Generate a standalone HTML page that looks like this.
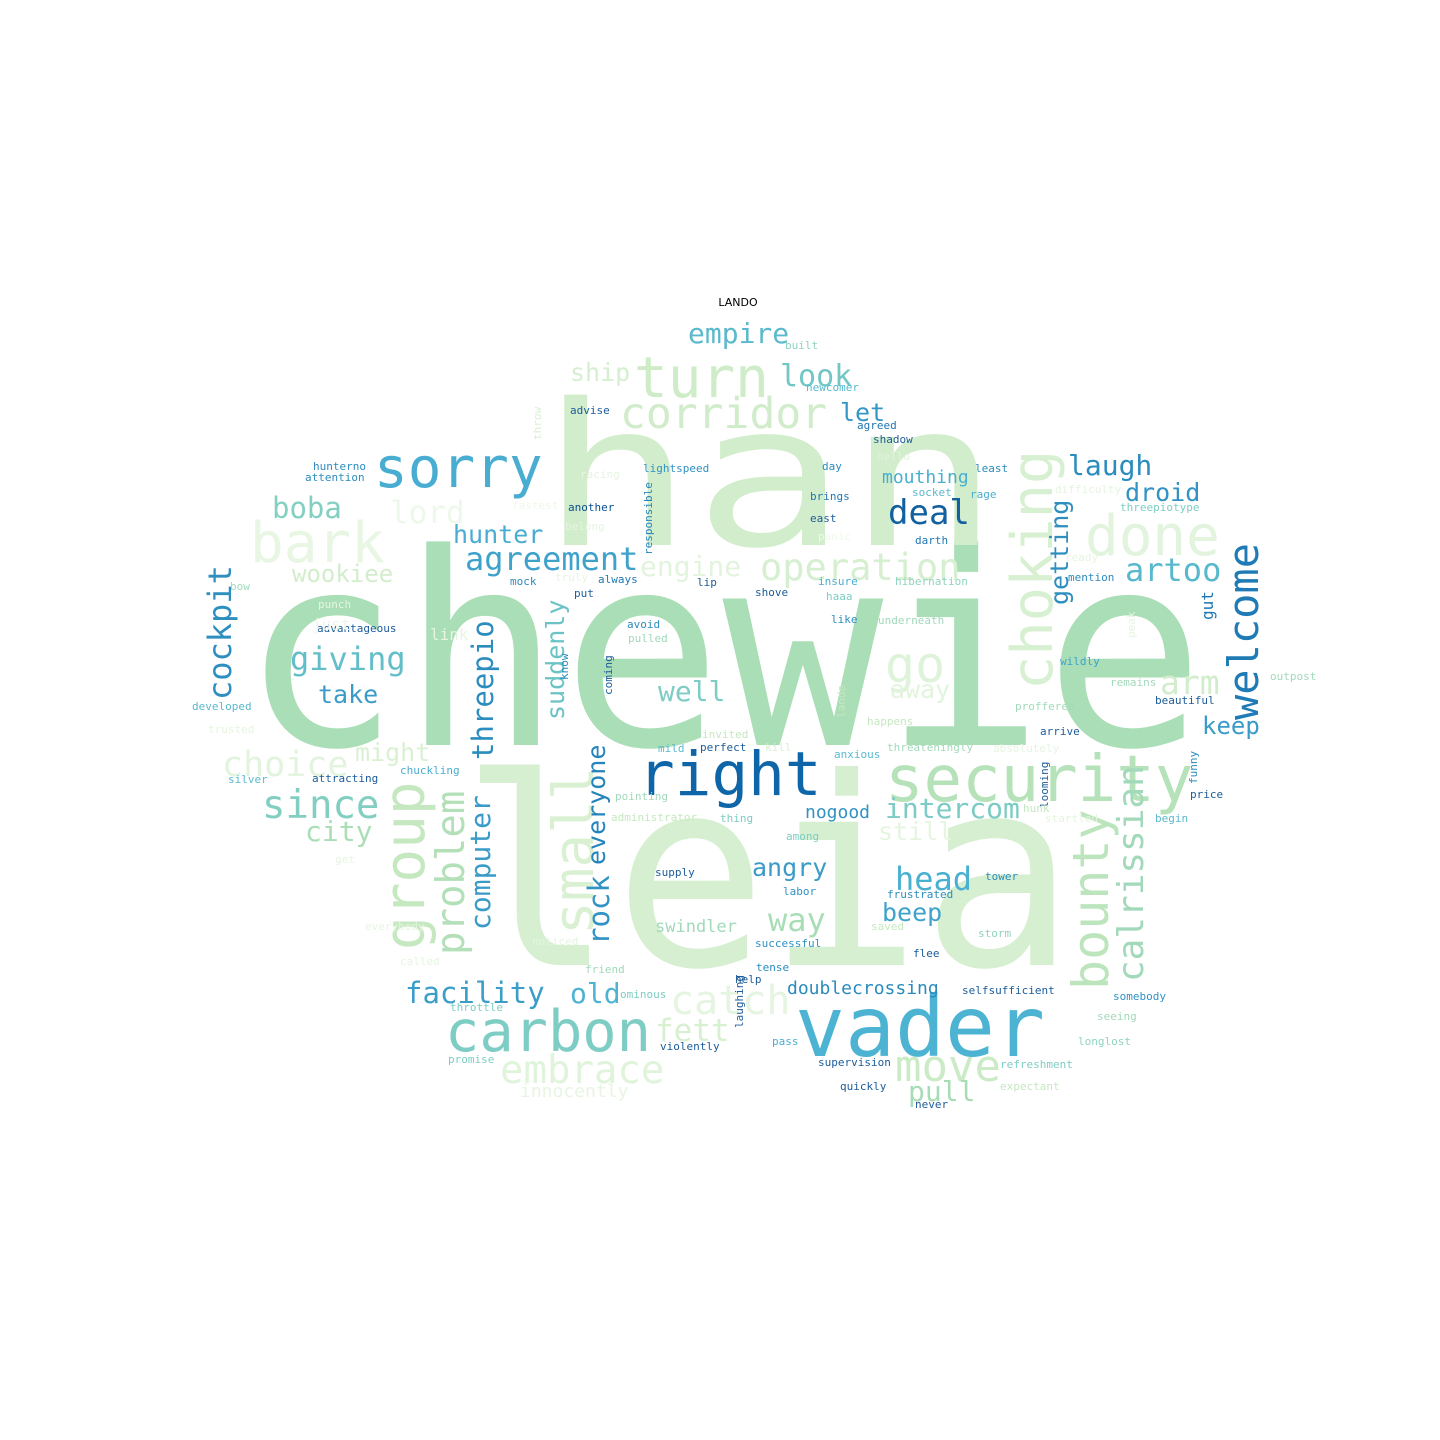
<!DOCTYPE html>
<html><head><meta charset="utf-8"><style>
html,body{margin:0;padding:0;background:#fff;}
svg{display:block;}
text{font-family:"DejaVu Sans Mono","Liberation Mono",monospace;}
</style></head><body>
<svg id="cloud" width="1440" height="1440" viewBox="0 0 1440 1440" xmlns="http://www.w3.org/2000/svg">
<rect width="1440" height="1440" fill="#fff"/>
<text x="738" y="306" text-anchor="middle" font-size="11" fill="#000" style="font-family:'DejaVu Sans',sans-serif">LANDO</text>
</svg>
<script>
// word, font size, left x, baseline y, rotation (0 or -90), color
const words = ["chewie","leia","han","vader","right","security","sorry","turn","carbon","done","bark","corridor","operation","go","choking","small","group","bounty","calrissian","welcome","problem","threepio","computer","cockpit","suddenly","everyone","rock","getting","embrace","move","fett","catch","facility","old","doublecrossing","pull","innocently","choice","might","since","city","take","giving","wookiee","boba","lord","hunter","agreement","engine","empire","ship","look","let","deal","laugh","droid","artoo","mouthing","arm","keep","gut","well","away","intercom","still","nogood","angry","head","way","beep","swindler",
"built","newcomer","advise","throw","agreed","shadow","hello","hunterno","attention","racing","lightspeed","day","least","socket","rage","brings","another","fastest","responsible","east","darth","panic","difficulty","threepiotype","ready","mention","hibernation","insure","truly","always","mock","lip","bow","put","shove","haaa","punch","avoid","like","underneath","advantageous","pulled","wildly","peak","outpost","know","coming","developed","remains","beautiful","proffered","happens","invited","trusted","perfect","kill","anxious","threateningly","absolutely","arrive","silver","attracting","chuckling","mild","pointing","funny","price","administrator","thing","among","looming","hunk","startled","begin","supply","tower","labor","frustrated","saved","storm","successful","flee","friend","tense","help","ominous","selfsufficient","somebody","throttle","longlost","seeing","laughing","pass","violently","refreshment","supervision","quickly","expectant","never","promise","noticed","called","everybody","get","lando","belong","link","just"];
const sizes = [268,262,198,84,61,64,56,56,57,56,56,43,37,50,57,56,56,50,36,42,39,29,28,32,25,25,29,25,39,44,31,40,29,28,18,28,18,35,25,39,28,25,32,24,29,31,25,32,28,28,25,30,25,34,28,25,32,18,33,24,16,28,25,28,25,18,25,32,32,25,17,
11,11,11,11,11,11,11,11,11,11,11,11,11,11,11,11,11,11,11,11,11,11,11,11,11,11,11,11,11,11,11,11,11,11,11,11,11,11,11,11,11,11,11,11,11,11,11,11,11,11,11,11,11,11,11,11,11,11,11,11,11,11,11,11,11,11,11,11,11,11,11,11,11,11,11,11,11,11,11,11,11,11,11,11,11,11,11,11,11,11,11,11,11,11,11,11,11,11,11,11,11,11,11,11,11,11];
// forced text widths for the largest words (0 = natural width)
const spans = [965,615,460,250];
const xs = [240,460,540,795,638,885,374,634,445,1085,250,620,760,885,1052,593,424,1108,1143,1258,464,493,490,231,564,605,609,1068,500,895,655,670,405,570,787,908,520,222,355,262,305,318,290,292,272,390,453,465,640,688,570,780,840,888,1068,1125,1125,882,1160,1202,1213,658,890,885,878,805,752,895,768,882,655,
785,806,570,541,857,873,877,313,305,580,643,822,975,912,970,810,568,512,652,810,915,818,1055,1120,1065,1068,895,818,555,598,510,697,230,574,755,826,318,627,831,878,317,628,1060,1135,1270,568,612,192,1110,1155,1015,867,702,208,700,765,834,887,993,1040,228,312,400,658,615,1197,1190,611,720,786,1048,1023,1045,1155,655,985,783,887,871,978,755,913,585,756,735,620,962,1113,450,1078,1097,743,772,660,1000,818,840,1000,915,448,532,400,365,335,845,565,430,312];
const ys = [745,965,545,1056,795,801,487,397,1051,555,562,428,580,682,690,935,950,990,982,720,955,760,930,700,720,865,945,605,1083,1081,1041,1014,1003,1003,994,1101,1097,776,761,818,841,703,670,582,518,523,543,570,576,343,381,386,421,524,475,501,581,483,694,734,620,701,698,818,840,818,876,890,931,921,932,
349,391,414,440,429,443,460,470,481,478,472,470,472,496,498,500,511,509,555,522,544,540,493,511,561,581,585,585,581,583,585,586,590,597,596,600,608,628,623,624,632,642,665,638,680,680,695,710,686,704,710,725,738,733,751,751,758,751,752,735,783,782,774,752,800,784,798,821,822,840,808,812,822,822,876,880,895,898,930,937,947,957,973,971,983,998,994,1000,1011,1045,1020,1028,1045,1050,1068,1066,1090,1090,1108,1063,945,965,930,863,718,530,640,630];
const rots = [0,0,0,0,0,0,0,0,0,0,0,0,0,0,-90,-90,-90,-90,-90,-90,-90,-90,-90,-90,-90,-90,-90,-90,0,0,0,0,0,0,0,0,0,0,0,0,0,0,0,0,0,0,0,0,0,0,0,0,0,0,0,0,0,0,0,0,-90,0,0,0,0,0,0,0,0,0,0,
0,0,0,-90,0,0,0,0,0,0,0,0,0,0,0,0,0,0,-90,0,0,0,0,0,0,0,0,0,0,0,0,0,0,0,0,0,0,0,0,0,0,0,0,-90,0,-90,-90,0,0,0,0,0,0,0,0,0,0,0,0,0,0,0,0,0,0,-90,0,0,0,0,-90,0,0,0,0,0,0,0,0,0,0,0,0,0,0,0,0,0,0,0,0,-90,0,0,0,0,0,0,0,0,0,0,0,0,-90,0,0,0,0];
const colors = ["#aadeb6","#d6efd0","#d2edcb","#4db3d3","#0e66a8","#b6e2ba","#48add1","#cdecc7","#7ecdc4","#e2f4dd","#e8f6e3","#d1ecca","#d6efd0","#dff3da","#d8f0d2","#d9f0d3","#c6e8c1","#bce5bd","#a2d9bb","#1f7bb6","#b3e0b8","#2b8cbe","#3a9bc8","#2d8fbf","#6cc3c6","#2584bb","#3192c3","#2e8fbf","#e0f3db","#cbeac6","#d8f0d2","#e6f5e1","#3b9ec8","#4eb3d3","#2a8bbe","#a7dcb6","#e7f5e2","#e2f4dd","#d9f0d3","#82cfc2","#aadeb6","#3a9bc8","#63bec9","#d3edcc","#83cfc2","#eef8ea","#48add1","#3ea2cb","#e3f4de","#5ab9cd","#d5efcf","#72c7c6","#3497c5","#1360a0","#2b8cbe","#3192c3","#58b8cd","#4aaed0","#d2edcb","#3a9bc8","#1e77b4","#7ecdc4","#e1f4dc","#7ccbc4","#e5f5e0","#3192c3","#3a9bc8","#4ab0d1","#a9ddb6","#3ea2cb","#a2d9bb",
"#8fd3c0","#5ab9cd","#1c5c99","#d9f0d3","#1e77b4","#1c5c99","#dff3da","#2b8cbe","#2b8cbe","#e5f5e0","#3192c3","#2b8cbe","#2b8cbe","#5ab9cd","#4aaed0","#1e77b4","#0b4f8e","#eef8ea","#2584bb","#1c5c99","#1e77b4","#eef8ea","#e5f5e0","#7ecdc4","#e5f5e0","#2b8cbe","#8fd3c0","#4aaed0","#e5f5e0","#1e77b4","#2b8cbe","#1c5c99","#a2d9bb","#1c5c99","#1c5c99","#7ecdc4","#e5f5e0","#2b8cbe","#2b8cbe","#a2d9bb","#1c5c99","#a2d9bb","#3ea2cb","#e5f5e0","#a2d9bb","#2b8cbe","#1c5c99","#5ab9cd","#a2d9bb","#1c5c99","#a2d9bb","#c6e8c1","#c6e8c1","#e5f5e0","#1c5c99","#d9f0d3","#5ab9cd","#a2d9bb","#e5f5e0","#1c5c99","#5ab9cd","#1c5c99","#4aaed0","#5ab9cd","#a2d9bb","#2b8cbe","#1c5c99","#c6e8c1","#7ecdc4","#7ecdc4","#1c5c99","#c6e8c1","#e5f5e0","#5ab9cd","#1c5c99","#2b8cbe","#3192c3","#2b8cbe","#c6e8c1","#8fd3c0","#3192c3","#1c5c99","#a2d9bb","#2b8cbe","#1c5c99","#7ecdc4","#1c5c99","#3192c3","#7ecdc4","#8fd3c0","#a2d9bb","#1c5c99","#4aaed0","#1c5c99","#7ecdc4","#1c5c99","#1c5c99","#c6e8c1","#1c5c99","#7ecdc4","#e5f5e0","#e5f5e0","#e5f5e0","#e5f5e0","#c6e8c1","#e5f5e0","#e5f5e0","#eef8ea","#eef8ea"];

const svg = document.getElementById('cloud');
const NS = 'http://www.w3.org/2000/svg';
for (let i = 0; i < words.length; i++) {
  const t = document.createElementNS(NS, 'text');
  t.setAttribute('x', xs[i]);
  t.setAttribute('y', ys[i]);
  t.setAttribute('font-size', sizes[i]);
  t.setAttribute('fill', colors[i]);
  if (spans[i]) {
    t.setAttribute('textLength', spans[i]);
    t.setAttribute('lengthAdjust', 'spacingAndGlyphs');
  }
  if (rots[i]) t.setAttribute('transform', 'rotate(' + rots[i] + ' ' + xs[i] + ' ' + ys[i] + ')');
  t.textContent = words[i];
  
  
  svg.appendChild(t);
}
</script>
</body></html>
